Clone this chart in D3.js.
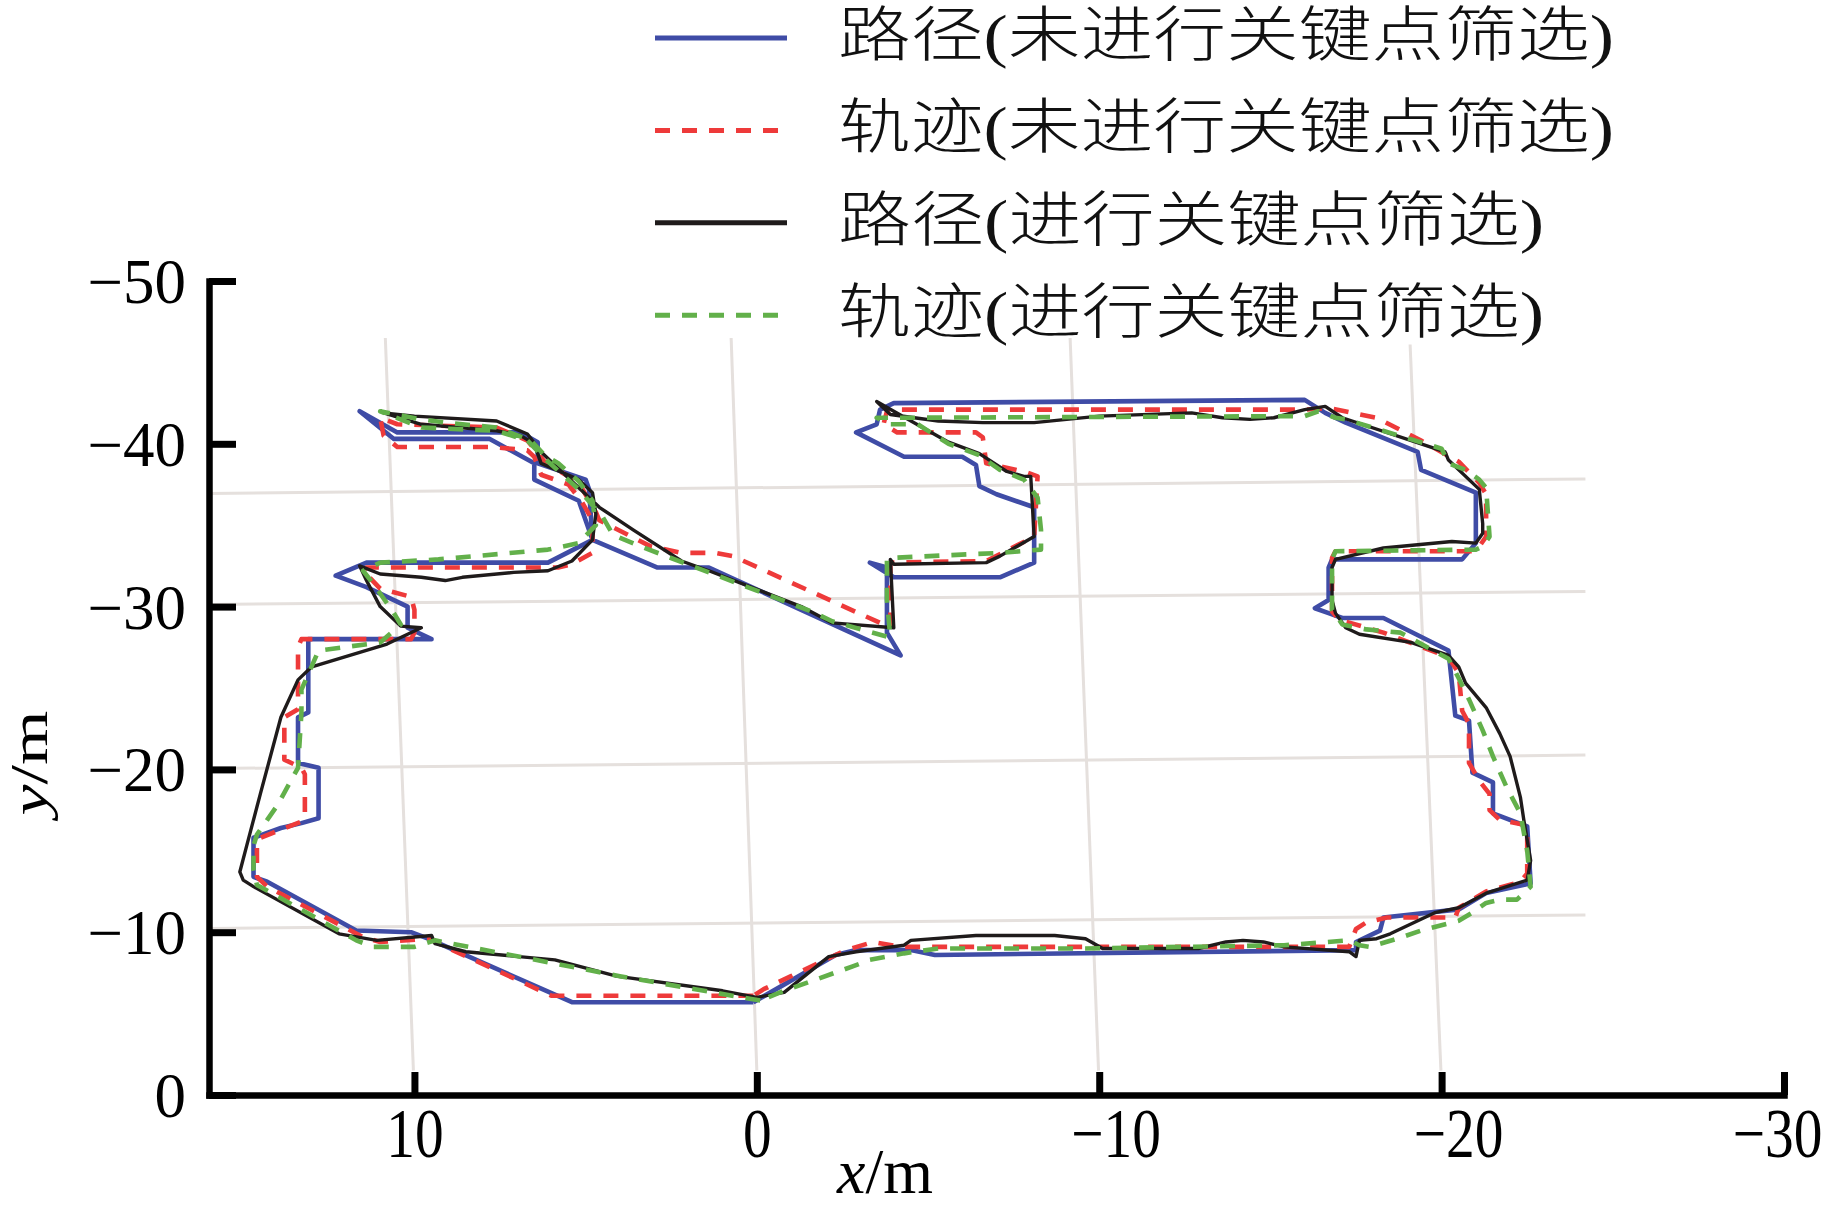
<!DOCTYPE html>
<html><head><meta charset="utf-8">
<script src="https://cdn.jsdelivr.net/npm/d3@7"></script>
<style>html,body{margin:0;padding:0;background:#fff;} svg{display:block;background:#fff}</style>
</head><body>
<svg id="chart" width="1828" height="1208"></svg>
<script>
// ---------------- data (metres) ----------------
const xTicks = [10, 0, -10, -20, -30];
const yTicks = [0, -10, -20, -30, -40, -50];
const seriesNames = ["路径(未进行关键点筛选)", "轨迹(未进行关键点筛选)", "路径(进行关键点筛选)", "轨迹(进行关键点筛选)"];

// 路径(未进行关键点筛选) - blue
const pathRaw = [[0.1,-5.7],[5.4,-5.7],[9.6,-9.6],[10.1,-10.0],[11.7,-10.1],[14.3,-13.1],[14.7,-13.4],[14.7,-15.8],[13.9,-16.4],[13.3,-16.7],[12.8,-17.0],[12.8,-20.1],[13.4,-20.4],[13.4,-23.2],[13.1,-23.5],[13.1,-27.5],[13.1,-28.0],[9.5,-28.0],[10.2,-28.7],[10.2,-30.0],[11.4,-31.2],[12.3,-31.9],[11.4,-32.7],[6.1,-32.7],[4.8,-34.1],[4.9,-37.2],[5.0,-37.8],[6.4,-38.8],[6.4,-40.1],[6.9,-40.7],[10.5,-40.7],[11.6,-42.0],[10.6,-40.3],[7.8,-40.3],[6.5,-38.8],[6.5,-37.8],[5.2,-36.5],[4.8,-34.1],[2.9,-32.4],[1.4,-32.4],[-4.2,-27.0],[-3.8,-28.4],[-3.8,-32.4],[-3.3,-32.7],[-4.0,-31.8],[-7.1,-31.8],[-8.1,-32.7],[-8.1,-36.1],[-7.0,-36.9],[-6.5,-37.4],[-6.4,-38.7],[-6.0,-39.2],[-4.3,-39.2],[-2.9,-40.7],[-3.5,-41.2],[-3.6,-42.1],[-4.0,-42.5],[-16.0,-42.7],[-16.6,-41.9],[-17.2,-41.3],[-19.3,-39.5],[-19.4,-38.4],[-21.0,-37.0],[-21.0,-33.9],[-20.6,-32.9],[-16.8,-32.9],[-16.7,-32.4],[-16.7,-30.4],[-16.3,-29.9],[-16.7,-29.6],[-17.1,-29.3],[-18.3,-29.3],[-20.2,-27.3],[-20.4,-23.3],[-20.8,-23.0],[-20.9,-19.8],[-21.5,-19.2],[-21.5,-17.3],[-22.5,-16.5],[-22.6,-13.0],[-21.3,-12.4],[-20.5,-11.4],[-18.3,-10.9],[-18.2,-10.1],[-17.5,-9.4],[-17.5,-8.9],[-5.2,-8.6],[-4.5,-8.9],[-2.9,-8.9],[-2.3,-8.6],[0.1,-5.7]];

// 轨迹(未进行关键点筛选) - red dashed
const trajRaw = [[0.1,-6.1],[5.4,-6.1],[6.0,-6.1],[9.6,-9.6],[11.0,-9.4],[11.5,-9.7],[14.3,-12.8],[14.6,-13.4],[14.6,-15.5],[14.5,-15.8],[13.3,-16.8],[13.2,-17.1],[13.2,-19.7],[13.3,-20.1],[13.8,-20.6],[13.8,-23.2],[13.4,-23.7],[13.4,-27.5],[13.3,-28.0],[10.1,-28.0],[10.0,-28.4],[10.0,-29.8],[10.1,-30.6],[11.0,-31.1],[11.5,-32.2],[11.4,-32.4],[5.8,-32.4],[5.4,-32.6],[4.8,-33.3],[4.8,-35.3],[5.1,-36.4],[5.5,-37.5],[6.3,-38.1],[6.5,-39.2],[6.7,-39.6],[7.7,-39.8],[10.5,-39.8],[10.9,-40.5],[11.0,-41.6],[10.5,-41.2],[7.6,-41.0],[6.7,-40.2],[6.2,-38.9],[5.2,-37.6],[4.7,-35.8],[4.6,-35.3],[3.1,-33.7],[2.2,-33.3],[1.2,-33.3],[0.7,-33.1],[-3.6,-29.0],[-3.9,-28.7],[-3.9,-32.7],[-6.7,-32.8],[-8.1,-34.3],[-8.2,-38.0],[-7.8,-38.3],[-6.7,-38.8],[-6.6,-40.4],[-6.4,-40.7],[-4.1,-40.7],[-3.7,-41.2],[-3.8,-42.0],[-4.1,-42.1],[-16.0,-42.1],[-16.7,-42.2],[-18.1,-41.6],[-19.4,-40.2],[-20.5,-38.9],[-21.1,-37.6],[-21.3,-36.9],[-21.3,-34.3],[-21.1,-33.7],[-20.9,-33.4],[-16.9,-33.4],[-16.8,-33.0],[-16.8,-29.7],[-17.0,-29.2],[-18.3,-28.4],[-20.2,-26.9],[-20.5,-25.9],[-20.6,-23.6],[-20.8,-22.8],[-20.8,-20.4],[-21.1,-19.3],[-21.4,-18.5],[-21.4,-17.5],[-21.7,-16.9],[-22.4,-16.6],[-22.5,-16.3],[-22.5,-13.6],[-22.3,-13.1],[-21.3,-12.5],[-20.5,-11.5],[-20.4,-10.9],[-18.4,-10.9],[-17.8,-10.6],[-17.5,-10.2],[-17.3,-9.1],[-4.2,-9.1],[-3.4,-9.4],[-2.6,-8.9],[-1.0,-7.3],[-0.2,-6.5],[0.1,-6.1]];

// 路径(进行关键点筛选) - black
const pathKey = [[0.0,-6.0],[1.0,-6.4],[4.1,-7.3],[5.9,-8.3],[8.5,-8.8],[9.4,-9.3],[9.5,-9.8],[11.1,-9.5],[12.2,-9.9],[14.7,-12.8],[15.0,-13.2],[15.1,-13.7],[14.9,-15.3],[14.5,-18.5],[13.9,-23.2],[13.4,-25.5],[13.0,-26.3],[10.8,-27.7],[10.0,-28.5],[9.8,-28.7],[10.4,-28.8],[11.0,-30.0],[11.4,-31.6],[11.6,-32.5],[11.0,-32.0],[9.8,-31.8],[9.1,-31.6],[8.6,-31.8],[7.1,-32.1],[6.1,-32.2],[5.4,-32.8],[4.8,-34.1],[4.7,-35.7],[4.8,-37.0],[5.2,-37.8],[6.3,-38.8],[6.5,-40.0],[6.9,-40.5],[7.6,-40.8],[9.8,-41.2],[10.9,-41.9],[10.0,-41.7],[7.6,-41.4],[6.7,-40.6],[6.3,-39.5],[4.6,-36.1],[3.6,-34.7],[2.2,-32.8],[1.4,-32.2],[-1.3,-30.0],[-2.2,-29.0],[-4.0,-28.7],[-3.9,-32.9],[-4.0,-32.6],[-6.7,-32.7],[-7.1,-33.1],[-8.1,-34.3],[-8.0,-38.0],[-7.8,-38.0],[-7.3,-38.3],[-6.5,-39.4],[-5.6,-40.1],[-4.0,-42.0],[-3.5,-42.6],[-3.9,-41.8],[-5.3,-41.4],[-6.6,-41.3],[-8.1,-41.3],[-10.0,-41.7],[-12.7,-41.9],[-13.6,-41.6],[-14.4,-41.5],[-15.1,-41.6],[-16.0,-42.1],[-16.6,-42.3],[-17.1,-41.6],[-19.4,-40.0],[-20.1,-39.5],[-20.2,-39.0],[-21.1,-37.2],[-21.2,-35.1],[-21.2,-34.5],[-21.0,-33.9],[-20.3,-34.0],[-18.3,-33.6],[-16.9,-32.9],[-16.8,-32.4],[-16.8,-30.4],[-16.9,-29.6],[-17.2,-28.7],[-17.6,-28.3],[-19.1,-27.8],[-19.8,-27.3],[-20.2,-27.0],[-20.5,-26.3],[-20.7,-25.3],[-21.3,-23.8],[-21.7,-22.2],[-22.0,-20.8],[-22.3,-18.3],[-22.4,-16.9],[-22.6,-14.4],[-22.5,-13.2],[-21.9,-12.8],[-21.3,-12.4],[-20.5,-11.5],[-19.8,-11.2],[-18.5,-9.9],[-18.1,-9.6],[-17.6,-9.5],[-17.5,-8.5],[-17.3,-8.8],[-15.4,-9.1],[-14.8,-9.4],[-14.2,-9.5],[-13.7,-9.4],[-12.9,-9.0],[-10.1,-9.0],[-9.6,-9.6],[-8.7,-9.8],[-6.4,-9.8],[-4.5,-9.5],[-4.3,-9.2],[-2.9,-8.8],[-2.1,-8.5],[-0.8,-6.3],[0.0,-6.0]];

// 轨迹(进行关键点筛选) - green dashed
const trajKey = [[-0.1,-5.8],[4.0,-7.3],[9.4,-9.5],[10.0,-9.1],[11.2,-9.1],[11.7,-9.5],[14.0,-12.2],[14.6,-12.9],[14.7,-13.8],[14.7,-15.3],[14.6,-16.0],[14.3,-16.9],[14.0,-17.8],[13.4,-20.1],[13.3,-23.5],[13.3,-24.9],[12.8,-27.3],[11.0,-27.8],[10.4,-28.9],[10.6,-29.6],[11.2,-31.4],[11.5,-32.2],[11.0,-32.7],[9.3,-32.9],[6.1,-33.5],[5.2,-33.9],[4.7,-35.0],[4.8,-36.5],[5.2,-37.7],[5.8,-38.8],[6.2,-39.3],[6.6,-40.2],[7.6,-41.0],[9.1,-41.3],[9.8,-41.5],[11.0,-42.0],[9.8,-41.0],[7.6,-40.8],[6.7,-40.2],[6.2,-39.1],[5.2,-37.2],[4.5,-35.5],[4.2,-34.4],[3.4,-33.7],[1.4,-32.1],[-1.6,-29.7],[-2.2,-29.1],[-3.9,-28.1],[-3.8,-30.4],[-3.8,-32.9],[-4.0,-33.0],[-7.1,-33.3],[-8.3,-33.5],[-8.3,-34.7],[-8.2,-36.7],[-7.8,-37.8],[-7.1,-38.4],[-6.5,-39.3],[-5.6,-40.0],[-4.7,-41.2],[-3.9,-41.2],[-3.5,-41.6],[-4.2,-41.6],[-16.0,-41.7],[-16.4,-42.0],[-16.9,-41.6],[-17.2,-41.5],[-20.0,-39.7],[-20.2,-38.8],[-20.7,-38.4],[-21.1,-37.8],[-21.3,-37.3],[-21.4,-34.3],[-21.2,-33.7],[-21.0,-33.5],[-16.9,-33.4],[-16.8,-32.9],[-16.8,-29.8],[-17.1,-28.9],[-17.8,-28.6],[-18.8,-28.4],[-20.2,-26.8],[-20.5,-25.6],[-20.8,-24.3],[-21.2,-22.4],[-21.5,-20.8],[-21.9,-18.9],[-22.3,-17.3],[-22.5,-15.0],[-22.6,-12.8],[-22.2,-12.0],[-21.7,-12.0],[-21.3,-11.8],[-20.9,-11.2],[-20.5,-10.7],[-19.4,-10.1],[-18.7,-9.6],[-17.9,-9.1],[-17.6,-9.2],[-17.3,-9.5],[-15.4,-9.2],[-9.6,-9.0],[-5.3,-9.0],[-4.3,-8.7],[-3.3,-8.3],[-2.8,-7.9],[-0.8,-6.4],[-0.1,-5.8]];

// slightly tilted background grid (3-D view), in data units
const gridH = [[-36.95,-37.84],[-30.13,-30.93],[-20.05,-20.88],[-10.23,-11.06]]; // y at left end, y at right end
const gridHX = [16, -24.2];
const gridV = [[10.85,10.03,-46.5],[0.75,0.0,-46.5],[-9.15,-9.98,-46.5],[-19.08,-19.98,-46.1]]; // x top, x bottom, y top
const gridVBottom = -1.5;

// ---------------- drawing ----------------
const W = 1828;
const svg = d3.select('#chart');
const x = d3.scaleLinear().domain([16, -30]).range([209, 1784]);
const y = d3.scaleLinear().domain([0, -50]).range([1095, 281]);
const fmt = d => d < 0 ? '\u2212' + (-d) : String(d);
const serif = "'Liberation Serif','Times New Roman',serif";

// grid
const grid = svg.append('g').attr('stroke', '#e5e0dd').attr('stroke-width', 3).attr('fill', 'none');
grid.selectAll('line.h').data(gridH).join('line').attr('class','h')
  .attr('x1', x(gridHX[0])).attr('x2', x(gridHX[1]))
  .attr('y1', d => y(d[0])).attr('y2', d => y(d[1]));
grid.selectAll('line.v').data(gridV).join('line').attr('class','v')
  .attr('x1', d => x(d[0])).attr('x2', d => x(d[1]))
  .attr('y1', d => y(d[2])).attr('y2', y(gridVBottom));

// series
const series = [
  {data: pathRaw, color: '#3f4ca6', width: 4.6, dash: null},
  {data: trajRaw, color: '#ee3a3a', width: 4.6, dash: '15,12'},
  {data: pathKey, color: '#1f1b1b', width: 3.4, dash: null},
  {data: trajKey, color: '#62b04a', width: 4.6, dash: '15,12'}
];
const line = d3.line().x(d => x(d[0])).y(d => y(d[1]));
svg.append('g').selectAll('path').data(series).join('path')
  .attr('d', s => line(s.data))
  .attr('fill', 'none')
  .attr('stroke', s => s.color)
  .attr('stroke-width', s => s.width)
  .attr('stroke-dasharray', s => s.dash)
  .attr('stroke-linejoin', 'round');

// axes
const sx = 0.82;
const gx = svg.append('g').attr('transform', `translate(0,${y(0)})`)
  .call(d3.axisBottom(x).tickValues(xTicks).tickSizeInner(-23).tickSizeOuter(0).tickFormat(fmt));
gx.attr('font-family', serif).attr('font-size', 70);
gx.select('.domain').attr('stroke', '#000').attr('stroke-width', 6.5).attr('stroke-linecap', 'square');
gx.selectAll('.tick line').attr('stroke', '#000').attr('stroke-width', 7);
gx.selectAll('.tick text').attr('y', 62).attr('dy', 0).attr('fill', '#000')
  .attr('transform', `scale(${sx},1)`)
  .attr('dx', d => d < 0 ? 20 : 0)
  .each(function(d) {
    // keep the label inside the picture
    const bb = this.getBBox();
    const right = x(d) + (bb.x + bb.width) * sx;
    if (right > W - 6) {
      const cur = +this.getAttribute('dx');
      this.setAttribute('dx', cur - (right - (W - 6)) / sx);
    }
  });

const gy = svg.append('g').attr('transform', `translate(${x(16)},0)`)
  .call(d3.axisLeft(y).tickValues(yTicks).tickSizeInner(-27).tickSizeOuter(0).tickFormat(fmt));
gy.attr('font-family', serif).attr('font-size', 63);
gy.select('.domain').attr('stroke', '#000').attr('stroke-width', 6.5).attr('stroke-linecap', 'square');
gy.selectAll('.tick line').attr('stroke', '#000').attr('stroke-width', 7);
gy.selectAll('.tick text').attr('x', -23).attr('dy', '0.34em').attr('fill', '#000');

// axis titles
const xt = svg.append('text').attr('x', 885).attr('y', 1193).attr('text-anchor', 'middle')
  .attr('font-family', serif).attr('font-size', 64).attr('fill', '#000');
xt.append('tspan').attr('font-style', 'italic').text('x');
xt.append('tspan').text('/m');
const yt = svg.append('text').attr('transform', 'translate(47,763) rotate(-90)').attr('text-anchor', 'middle')
  .attr('font-family', serif).attr('font-size', 52).attr('fill', '#000')
  .attr('textLength', 105).attr('lengthAdjust', 'spacingAndGlyphs');
yt.append('tspan').attr('font-style', 'italic').text('y');
yt.append('tspan').text('/m');

// legend
const legTop = 38, legStep = 92.4, legX0 = 655, legX1 = 787, legTextX = 838;
const leg = svg.append('g');
series.forEach((s, i) => {
  const ly = legTop + i * legStep;
  leg.append('line').attr('x1', legX0).attr('x2', legX1).attr('y1', ly).attr('y2', ly)
    .attr('stroke', s.color).attr('stroke-width', 5).attr('stroke-dasharray', s.dash);
  const name = seriesNames[i];
  const nCJK = name.replace(/[()]/g, '').length;
  const nPar = name.length - nCJK;
  leg.append('text').attr('x', legTextX).attr('y', ly + 18)
    .attr('font-family', "'Liberation Serif','Noto Sans CJK SC',sans-serif")
    .attr('font-size', 60).attr('font-weight', 300).attr('fill', '#111')
    .attr('textLength', nCJK * 70 + nPar * 38).attr('lengthAdjust', 'spacingAndGlyphs')
    .text(name);
});
</script>
</body></html>
